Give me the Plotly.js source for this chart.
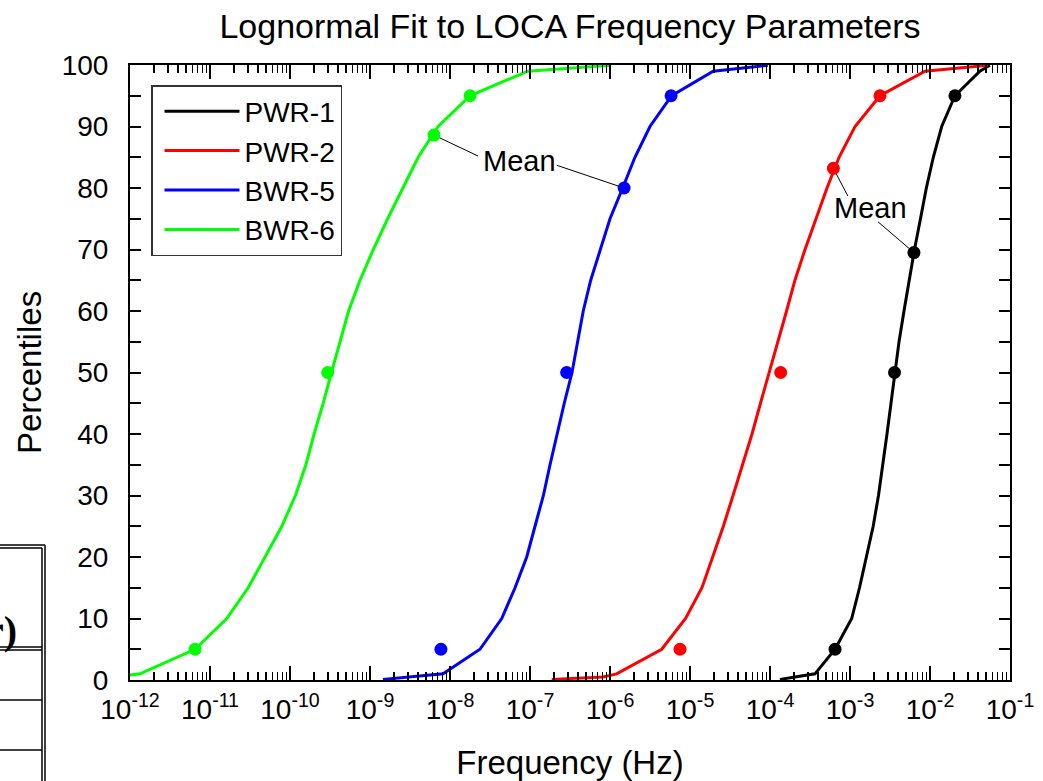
<!DOCTYPE html>
<html>
<head>
<meta charset="utf-8">
<script src="https://cdn.plot.ly/plotly-3.0.1.min.js"></script>
<style>html,body{margin:0;padding:0;background:#fff;}#chart{width:1043px;height:781px;}</style>
</head>
<body>
<div id="chart"></div>
<script>
// ---- data ----
const seriesNames = ["PWR-1", "PWR-2", "BWR-5", "BWR-6"];
const seriesColors = ["#000000", "#ff0000", "#0000ff", "#00ff00"];

// fitted lognormal curves: frequency (Hz) vs percentile
const pwr1CurvePct = [0.1, 1, 5, 10, 15, 20, 25, 30, 35, 40, 45, 50, 55, 60, 65, 70, 75, 80, 85, 90, 95, 99, 99.95];
const pwr1CurveFreq = [1.33e-4, 3.65e-4, 6.5e-4, 1.05e-3, 1.315e-3, 1.61e-3, 1.95e-3, 2.27e-3, 2.585e-3, 2.9e-3, 3.255e-3, 3.65e-3, 4.1e-3, 4.73e-3, 5.46e-3, 6.4e-3, 7.6e-3, 9.0e-3, 1.1e-2, 1.4e-2, 2.05e-2, 4.2e-2, 5.6e-2];

const pwr2CurvePct = [0.1, 0.5, 1, 5, 10, 15, 20, 25, 30, 35, 40, 45, 50, 55, 60, 65, 70, 75, 80, 85, 90, 95, 99, 99.95];
const pwr2CurveFreq = [1.87e-7, 8.2e-7, 1.21e-6, 4.43e-6, 8.8e-6, 1.41e-5, 1.92e-5, 2.61e-5, 3.45e-5, 4.52e-5, 5.96e-5, 7.6e-5, 9.8e-5, 1.25e-4, 1.61e-4, 2.05e-4, 2.74e-4, 3.76e-4, 5.16e-4, 7.3e-4, 1.155e-3, 2.37e-3, 8.66e-3, 5.3e-2];

const bwr5CurvePct = [0.1, 1, 5, 10, 15, 20, 25, 30, 35, 40, 45, 50, 55, 60, 65, 70, 75, 80, 85, 90, 95, 99, 99.95];
const bwr5CurveFreq = [1.45e-9, 8.2e-9, 2.37e-8, 4.43e-8, 6.5e-8, 9.1e-8, 1.155e-7, 1.47e-7, 1.78e-7, 2.16e-7, 2.68e-7, 3.35e-7, 3.9e-7, 4.63e-7, 5.74e-7, 7.5e-7, 1.0e-6, 1.44e-6, 2.05e-6, 3.16e-6, 5.9e-6, 1.95e-5, 9.4e-5];

const bwr6CurvePct = [0.5, 1, 5, 10, 15, 20, 25, 30, 35, 40, 45, 50, 55, 60, 65, 70, 75, 80, 85, 90, 95, 99, 99.95];
const bwr6CurveFreq = [6.5e-13, 1.33e-12, 6.5e-12, 1.62e-11, 3.0e-11, 4.9e-11, 7.9e-11, 1.17e-10, 1.58e-10, 2.0e-10, 2.6e-10, 3.3e-10, 4.2e-10, 5.4e-10, 7.5e-10, 1.1e-9, 1.66e-9, 2.57e-9, 4.0e-9, 7.1e-9, 1.78e-8, 9.4e-8, 1.0e-6];

// parameter points: 5th, median, mean, 95th
const pwr1PointPct = [5, 50, 69.5, 95];
const pwr1PointFreq = [6.5e-4, 3.6e-3, 6.3e-3, 2.05e-2];
const pwr2PointPct = [5, 50, 83.2, 95];
const pwr2PointFreq = [7.5e-6, 1.36e-4, 6.2e-4, 2.37e-3];
const bwr5PointPct = [5, 50, 80, 95];
const bwr5PointFreq = [7.7e-9, 2.87e-7, 1.5e-6, 5.8e-6];
const bwr6PointPct = [5, 50, 88.6, 95];
const bwr6PointFreq = [6.5e-12, 2.96e-10, 6.3e-9, 1.78e-8];

// "Mean" label leader lines (label end -> mean point)
const leaderFreq = [[6.3e-9, 2.24e-8], [2.16e-7, 1.5e-6], [6.2e-4, 9.4e-4], [2.24e-3, 6.3e-3]];
const leaderPct = [[88.6, 85.2], [83.7, 80], [83.2, 78.7], [74.5, 69.5]];

const xTickVals = [1e-12, 1e-11, 1e-10, 1e-9, 1e-8, 1e-7, 1e-6, 1e-5, 1e-4, 1e-3, 1e-2, 1e-1];
const xTickText = ["10<sup>-12</sup>", "10<sup>-11</sup>", "10<sup>-10</sup>", "10<sup>-9</sup>", "10<sup>-8</sup>", "10<sup>-7</sup>",
                   "10<sup>-6</sup>", "10<sup>-5</sup>", "10<sup>-4</sup>", "10<sup>-3</sup>", "10<sup>-2</sup>", "10<sup>-1</sup>"];

// ---- build traces ----
const curvesX = [pwr1CurveFreq, pwr2CurveFreq, bwr5CurveFreq, bwr6CurveFreq];
const curvesY = [pwr1CurvePct, pwr2CurvePct, bwr5CurvePct, bwr6CurvePct];
const ptsX = [pwr1PointFreq, pwr2PointFreq, bwr5PointFreq, bwr6PointFreq];
const ptsY = [pwr1PointPct, pwr2PointPct, bwr5PointPct, bwr6PointPct];

const FONT = "Liberation Sans, Arial, sans-serif";
const traces = [];
for (let i = 0; i < seriesNames.length; i++) {
  traces.push({
    type: "scatter", mode: "lines", name: seriesNames[i],
    x: curvesX[i], y: curvesY[i],
    line: {color: seriesColors[i], width: 3}
  });
}
for (let i = 0; i < leaderFreq.length; i++) {
  traces.push({
    type: "scatter", mode: "lines", showlegend: false, hoverinfo: "skip",
    x: leaderFreq[i], y: leaderPct[i],
    line: {color: "#000000", width: 1}
  });
}
for (let i = 0; i < seriesNames.length; i++) {
  traces.push({
    type: "scatter", mode: "markers", showlegend: false,
    x: ptsX[i], y: ptsY[i],
    marker: {color: seriesColors[i], size: 13, symbol: "circle"}
  });
}

// pixel -> paper helpers for the cropped table fragment at the lower left
const L = 130, R = 1010, T = 65, B = 680;
const px = v => (v - L) / (R - L);
const py = v => (B - v) / (B - T);
const tableLine = (x0, y0, x1, y1) => ({
  type: "line", xref: "paper", yref: "paper",
  x0: px(x0), y0: py(y0), x1: px(x1), y1: py(y1),
  line: {color: "#000", width: 1.5}
});

const layout = {
  width: 1043, height: 781,
  margin: {l: L, r: 1043 - R, t: T, b: 781 - B},
  paper_bgcolor: "#fff", plot_bgcolor: "#fff",
  font: {family: FONT, color: "#000", size: 28},
  title: {
    text: "Lognormal Fit to LOCA Frequency Parameters",
    font: {family: FONT, size: 34, color: "#000"},
    x: 0.5, xref: "paper", y: 0.967, yref: "container", yanchor: "middle"
  },
  xaxis: {
    type: "log", range: [-12, -1],
    tickvals: xTickVals, ticktext: xTickText, tickangle: 0,
    ticks: "inside", ticklen: 14, tickwidth: 2, tickcolor: "#000",
    minor: {ticks: "inside", ticklen: 8, tickwidth: 1.5, tickcolor: "#000", dtick: "D1", showgrid: false},
    showline: true, linewidth: 2, linecolor: "#000", mirror: "ticks",
    showgrid: false, zeroline: false, ticklabelstandoff: 3,
    tickfont: {family: FONT, size: 28, color: "#000"},
    title: {text: "Frequency (Hz)", font: {family: FONT, size: 33, color: "#000"}, standoff: 28}
  },
  yaxis: {
    range: [0, 100], dtick: 10,
    ticks: "inside", ticklen: 11, tickwidth: 2, tickcolor: "#000",
    minor: {ticks: "inside", ticklen: 11, tickwidth: 2, tickcolor: "#000", dtick: 5, showgrid: false},
    showline: true, linewidth: 2, linecolor: "#000", mirror: "ticks",
    showgrid: false, zeroline: false, ticklabelstandoff: 14,
    tickfont: {family: FONT, size: 28, color: "#000"},
    title: {text: "Percentiles", font: {family: FONT, size: 33, color: "#000"}, standoff: 10}
  },
  legend: {
    x: px(151), y: py(85), xanchor: "left", yanchor: "top",
    bgcolor: "#fff", bordercolor: "#333", borderwidth: 1.5,
    font: {family: FONT, size: 28, color: "#000"},
    itemwidth: 75, indentation: 7, tracegroupgap: 0
  },
  annotations: [
    {xref: "x", yref: "y", x: -7.1375, y: 84.4, text: "Mean", showarrow: false,
     font: {family: FONT, size: 29, color: "#000"}},
    {xref: "x", yref: "y", x: -2.75, y: 76.7, text: "Mean", showarrow: false,
     font: {family: FONT, size: 29, color: "#000"}},
    {xref: "paper", yref: "paper", x: px(19), y: py(630), xanchor: "right", yanchor: "middle",
     text: "<b>r)</b>", showarrow: false,
     font: {family: "Liberation Serif, Times New Roman, serif", size: 40, color: "#000"}}
  ],
  shapes: [
    tableLine(0, 545, 45, 545),
    tableLine(0, 548, 42, 548),
    tableLine(45, 545, 45, 781),
    tableLine(42, 548, 42, 781),
    tableLine(0, 647, 42, 647),
    tableLine(0, 650, 42, 650),
    tableLine(0, 700, 42, 700),
    tableLine(0, 750, 42, 750)
  ],
  showlegend: true
};

Plotly.newPlot("chart", traces, layout, {displayModeBar: false, staticPlot: true});
</script>
</body>
</html>
